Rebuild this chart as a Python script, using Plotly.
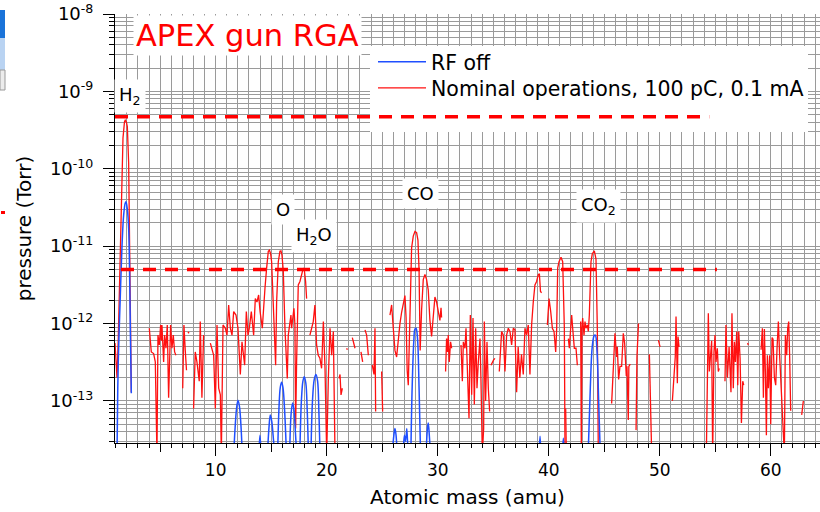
import plotly.graph_objects as go

# ---------------- data ----------------
red_mass = [
    0.93, 1.02, 1.11, 1.22, 1.32, 1.41, 1.50, 1.65, 1.78, 1.86, 1.96, 2.04, 2.16, 2.25, 2.31, 2.40, None,
    4.02, 4.12, 4.20, 4.41, 4.56, 4.71, 4.80, 4.92, 5.04, 5.10, 5.16, 5.31, 5.40, 5.52, 5.64, 5.76, 5.94, 6.06, 6.18, 6.30, 6.42, None,
    7.03, 7.14, 7.26, 7.37, None,
    7.50, 7.60, None,
    8.01, 8.16, 8.31, 8.52, 8.61, 8.76, 8.91, None,
    9.52, 9.67, 9.82, 9.97, 10.12, 10.27, 10.42, 10.51, 10.66, 10.87,
    11.02, 11.17, 11.32, 11.47, 11.62, 11.83, 12.01, 12.22, 12.37, 12.61,
    12.76, 12.91, 13.03, 13.21, 13.42, 13.57, 13.72, 13.87, 14.00, 14.20,
    14.29, 14.44, 14.59, 14.74, 14.84, 14.95, 15.04, 15.19, 15.34, 15.40,
    15.49, 15.64, 15.79, 15.88, 15.97, 16.09, 16.24, 16.45, 16.54, 16.69,
    16.78, 16.84, 16.99, 17.05, 17.14, 17.20, 17.29, 17.44, 17.59, 17.74,
    17.89, 17.98, 18.10, 18.19, None,
    18.49, 18.64, 18.79, 18.94, 19.09, 19.24, 19.39, 19.54, 19.70, 19.85, 20.00, 20.15, 20.30, 20.45, 20.60, 20.75, None,
    21.11, 21.20, 21.29, 21.41, None,
    21.80, 21.86, None,
    22.31, 22.45, 22.55, None,
    23.09, 23.24, None,
    23.45, 23.60, 23.75, None,
    24.11, 24.26, 24.35, 24.41, None,
    24.95, 25.04, None,
    25.70, 25.85, 26.00, 26.15, 26.30, 26.45, 26.60, 26.75, 26.90, 27.05,
    27.15, 27.25, 27.35, 27.50, 27.65, 27.80, 27.95, 28.10, 28.22, 28.32,
    28.42, 28.55, 28.70, 28.85, 29.00, 29.15, 29.30, 29.45, 29.60, 29.75,
    29.90, 30.05, 30.20, 30.30, 30.35, None,
    30.71, 30.80, 30.89, 30.95, 31.04, 31.16, 31.26, None,
    32.10, 32.22, 32.31, 32.46, 32.55, 32.67, 32.82, 32.94, 33.06, 33.18,
    33.30, 33.42, 33.54, 33.66, 33.81, 33.90, 34.02, 34.14, 34.20, 34.32,
    34.44, 34.56, 34.68, None,
    34.80, 34.92, 35.04, 35.16, None,
    35.55, 35.67, 35.76, 35.91, 36.06, 36.21, 36.36, 36.51, 36.66, 36.81,
    36.96, 37.11, 37.25, 37.40, 37.55, 37.71, 37.86, 38.01, 38.16, 38.31,
    38.46, 38.61, 38.76, 38.91, 39.06, 39.16, 39.26, 39.36, None,
    39.88, 40.03, 40.18, 40.33, 40.48, 40.63, 40.72, 40.81, 40.93, 41.11, 41.26, 41.41, 41.47, None,
    41.53, 41.59, None,
    41.77, 41.86, 41.98, 42.07, 42.16, 42.31, 42.46, 42.58, None,
    42.88, 42.94, 43.00, 43.06, 43.18, 43.27, 43.36, 43.48, 43.57, 43.66, 43.81, 43.93, 44.11, 44.26, 44.38, 44.47, None,
    45.67, 45.82, 45.97, 46.12, 46.18, 46.30, 46.42, 46.57, 46.72, 46.84, 46.99, 47.05, 47.17, 47.22, 47.35, None,
    47.87, 47.95, 48.09, None,
    49.07, 49.28, None,
    49.88, 50.03, None,
    51.14, 51.29, 51.40, 51.47, 51.53, 51.59, 51.65, 51.74, None,
    54.20, 54.38, 54.47, 54.59, 54.68, 54.77, 54.89, 54.98, 55.07, 55.19, 55.28, 55.37, None,
    55.88, 55.97, 56.10, 56.25, 56.42, 56.51, 56.63, 56.73, 56.82, 56.94, 57.03, 57.12, 57.24, 57.36, 57.48, 57.57, None,
    57.92, 57.98, None,
    59.13, 59.25, 59.34, 59.43, 59.52, 59.61, 59.70, 59.79, 59.91, 60.00,
    60.12, 60.21, 60.33, 60.45, 60.57, 60.69, 60.80, 60.93, 61.05, 61.23,
    61.32, 61.44, 61.53, 61.62, 61.71, 61.80, None,
    62.79, 62.94,
]
red_pressure = [
    5.6e-13, 3.5e-13, 2.0e-13, 6.0e-13, 2.3e-12, 1.2e-11, 4.6e-11, 2.5e-10, 4.0e-10, 4.3e-10, 4.0e-10, 3.5e-10, 1.2e-10, 1.0e-11, 8.8e-13, 1.3e-13, None,
    8.7e-13, 5.5e-13, 4.3e-13, 4.1e-13, 3.2e-13, 2.0e-14, 7.1e-13, 5.3e-13, 9.6e-13, 6.0e-13, 9.6e-13, 3.2e-13, 7.1e-13, 4.8e-13, 9.6e-13, 1.1e-13, 9.6e-13, 4.8e-13, 7.1e-13, 4.3e-13, 3.9e-13, None,
    1.46e-13, 9.6e-13, 4.5e-13, 2.5e-13, None,
    7.8e-13, 7.5e-13, None,
    8.0e-14, 4.3e-13, 3.2e-13, 1.8e-13, 1.06e-12, 1.1e-13, 7.1e-13, None,
    5.6e-13, 4.8e-13, 3.9e-13, 8.0e-14, 9.6e-13, 1.46e-13, 1.2e-13, 2.0e-14, 9.6e-13, 8.7e-13,
    7.1e-13, 1.74e-12, 8.7e-13, 7.1e-13, 1.43e-12, 1.29e-12, 8.7e-13, 2.2e-13, 5.8e-13, 2.9e-13,
    1.43e-12, 7.1e-13, 8.7e-13, 1.43e-12, 7.1e-13, 2.1e-12, 1.9e-12, 2.34e-12, 1.43e-12, 8.7e-13,
    1.58e-12, 2.86e-12, 5.2e-12, 8.6e-12, 8.9e-12, 8.0e-12, 6.3e-12, 1.9e-12, 3.9e-13, 2.9e-13,
    1.9e-12, 6.3e-12, 8.6e-12, 8.7e-12, 7.7e-12, 4.8e-12, 8.7e-13, 1.96e-13, 7.1e-13, 1.06e-12,
    1.29e-12, 8.7e-13, 1.43e-12, 1.58e-12, 9.6e-13, 4.4e-14, 3.2e-13, 3.15e-12, 3.5e-12, 4.3e-12,
    5.2e-12, 5.0e-12, 3.5e-12, 2.1e-12, None,
    7.1e-13, 8.7e-13, 1.06e-12, 1.74e-12, 5.3e-13, 3.9e-13, 3.56e-13, 2.64e-13, 1.06e-12, 2.64e-13, 2.0e-14, 1.96e-13, 8.7e-13, 3.9e-13, 7.9e-13, 2.0e-14, None,
    1.96e-13, 2.2e-13, 1.2e-13, 1.46e-13, None,
    4.8e-13, 4.6e-13, None,
    6.6e-13, 5.5e-13, 4.8e-13, None,
    4.3e-13, 3.2e-13, None,
    8.3e-13, 7.1e-13, 3.9e-13, None,
    2.9e-13, 2.2e-13, 8.7e-13, 7.3e-14, None,
    2.4e-13, 7.3e-14, None,
    1.29e-12, 1.74e-12, 8.7e-13, 4.5e-13, 3.7e-13, 7.0e-13, 1.0e-12, 1.4e-12, 1.8e-12, 2.3e-12,
    1.2e-12, 2.5e-13, 1.6e-13, 2.0e-12, 9.5e-12, 1.35e-11, 1.55e-11, 1.5e-11, 1.2e-11, 5.0e-12,
    4.5e-13, 1.5e-12, 3.7e-12, 4.3e-12, 3.7e-12, 2.7e-12, 1.1e-12, 6.8e-13, 1.37e-12, 2.2e-12,
    1.9e-12, 1.37e-12, 1.1e-12, 1.6e-12, 1.2e-12, None,
    2.4e-13, 6.4e-13, 4.3e-13, 7.1e-13, 3.2e-13, 5.8e-13, 4.8e-13, None,
    5.3e-13, 1.8e-13, 5.8e-13, 4.8e-13, 8.7e-13, 2.64e-13, 6.0e-14, 1.29e-12, 1.2e-13, 1.18e-12,
    9.0e-14, 8.7e-13, 1.46e-13, 3.2e-13, 6.4e-13, 1.8e-13, 2.0e-14, 4.4e-14, 1.06e-12, 1.0e-13,
    5.8e-13, 1.46e-13, 7.3e-14, None,
    2.9e-13, 3.2e-13, 3.4e-13, 3.56e-13, None,
    2.4e-13, 4.8e-13, 7.9e-13, 7.1e-13, 2.4e-13, 7.1e-13, 8.7e-13, 7.9e-13, 5.3e-13, 8.7e-13,
    8.3e-13, 1.3e-13, 5.0e-13, 2.0e-13, 4.0e-13, 2.2e-13, 8.7e-13, 7.1e-13, 9.6e-13, 2.2e-13,
    9.6e-13, 1.9e-12, 3.15e-12, 3.5e-12, 4.3e-12, 4.4e-12, 2.6e-12, 2.5e-12, None,
    9.6e-13, 2.1e-12, 1.43e-12, 8.7e-13, 7.9e-13, 4.3e-13, 8.7e-13, 5.2e-12, 6.3e-12, 7.2e-12, 6.3e-12, 8.7e-13, 2.0e-14, None,
    8.0e-14, 2.0e-14, None,
    6.4e-13, 4.8e-13, 8.7e-13, 1.29e-12, 8.7e-13, 4.8e-13, 4.8e-13, 2.9e-13, None,
    1.06e-12, 2.0e-14, 8.7e-13, 1.18e-12, 7.1e-13, 1.06e-12, 8.7e-13, 9.6e-13, 7.9e-13, 1.29e-12, 6.3e-12, 8.0e-12, 8.7e-12, 6.8e-12, 8.7e-13, 2.0e-14, None,
    9.3e-14, 3.1e-13, 7.5e-13, 3.7e-13, 5.0e-13, 1.9e-13, 2.8e-13, 2.8e-13, 7.5e-13, 5.6e-13, 2.1e-13, 2.8e-13, 5.7e-14, 2.8e-13, 3.0e-13, None,
    4.2e-14, 3.7e-13, 1.0e-12, None,
    4.0e-13, 2.0e-14, None,
    6.1e-13, 5.0e-13, None,
    1.0e-13, 1.9e-13, 3.7e-13, 1.23e-12, 3.7e-13, 1.7e-13, 6.8e-13, 5.0e-13, None,
    2.0e-14, 1.36e-12, 2.4e-13, 4.8e-13, 6.0e-13, 2.0e-14, 4.3e-13, 7.1e-13, 3.2e-13, 4.8e-13, 2.4e-13, 2.64e-13, None,
    1.8e-13, 9.6e-13, 2.0e-13, 5.0e-13, 1.3e-13, 1.36e-12, 1.46e-13, 5.8e-13, 3.2e-13, 7.9e-13, 1.6e-13, 7.9e-13, 3.56e-13, 5.2e-14, 1.8e-13, 1.6e-13, None,
    5.6e-13, 5.3e-13, None,
    4.6e-13, 8.7e-13, 1.1e-13, 8.5e-13, 2.4e-13, 3.6e-14, 3.9e-13, 1.46e-13, 3.9e-13, 5.0e-14,
    6.6e-13, 6.3e-13, 2.0e-13, 1.6e-13, 4.8e-13, 1.06e-12, 4.0e-13, 1.3e-13, 7.0e-14, 2.0e-14,
    7.1e-13, 3.9e-13, 8.7e-13, 1.06e-12, 3.56e-13, 7.5e-14, None,
    6.6e-14, 1.0e-13,
]

blue_mass = [
    1.11, 1.18, 1.26, 1.41, 1.56, 1.71, 1.85, 1.92, 2.04, 2.16, 2.24, 2.31, 2.36, 2.40, None,
    11.62, 11.75, 11.88, 12.01, 12.14, 12.27, 12.40, None,
    13.88, 13.99, 14.10, None,
    14.66, 14.80, 14.92, 15.05, 15.18, 15.32, None,
    15.58, 15.70, 15.82, 15.94, 16.06, 16.20, 16.38, None,
    16.66, 16.80, 16.93, 17.06, 17.18, 17.30, None,
    17.58, 17.72, 17.86, 17.98, 18.12, 18.24, 18.36, None,
    18.58, 18.72, 18.88, 19.03, 19.18, 19.30, 19.40, None,
    25.90, 26.05, 26.15, 26.25, 26.35, None,
    26.88, 27.00, 27.10, 27.22, 27.32, None,
    27.58, 27.70, 27.85, 27.95, 28.05, 28.18, 28.32, 28.46, None,
    28.95, 29.08, 29.15, 29.25, 29.35, None,
    39.12, 39.22, 39.30, None,
    41.22, 41.32, 41.40, None,
    43.55, 43.75, 43.92, 44.10, 44.20, 44.35, 44.50, 44.65,
]
blue_pressure = [
    2.0e-14, 1.5e-13, 5.0e-13, 2.34e-12, 1.0e-11, 2.53e-11, 3.6e-11, 3.76e-11, 3.0e-11, 1.7e-11, 5.0e-12, 8.7e-13, 3.0e-13, 1.26e-13, None,
    2.0e-14, 4.5e-14, 8.0e-14, 1.02e-13, 8.5e-14, 5.0e-14, 2.0e-14, None,
    2.0e-14, 3.6e-14, 2.0e-14, None,
    2.0e-14, 4.5e-14, 6.6e-14, 5.5e-14, 3.5e-14, 2.0e-14, None,
    2.0e-14, 8.0e-14, 1.5e-13, 1.75e-13, 1.5e-13, 8.0e-14, 2.0e-14, None,
    2.0e-14, 7.0e-14, 9.4e-14, 7.5e-14, 4.0e-14, 2.0e-14, None,
    2.0e-14, 1.0e-13, 1.8e-13, 2.06e-13, 1.7e-13, 8.0e-14, 2.0e-14, None,
    2.0e-14, 1.0e-13, 1.9e-13, 2.2e-13, 1.8e-13, 7.0e-14, 2.0e-14, None,
    2.0e-14, 3.6e-14, 4.4e-14, 3.6e-14, 2.0e-14, None,
    2.0e-14, 3.6e-14, 3.0e-14, 4.4e-14, 2.0e-14, None,
    2.0e-14, 1.5e-13, 6.0e-13, 8.5e-13, 8.7e-13, 6.5e-13, 1.5e-13, 2.0e-14, None,
    2.0e-14, 4.5e-14, 5.2e-14, 3.5e-14, 2.0e-14, None,
    2.0e-14, 3.5e-14, 2.0e-14, None,
    2.0e-14, 3.3e-14, 2.0e-14, None,
    2.0e-14, 1.5e-13, 5.0e-13, 7.0e-13, 7.1e-13, 4.5e-13, 1.0e-13, 2.0e-14,
]

limit_high_mass = [0.93, 54.46]
limit_high_pressure = [4.7e-10, 4.7e-10]
limit_low_mass = [1.47, 55.15]
limit_low_pressure = [5.0e-12, 5.0e-12]

x_major_ticks = [10, 20, 30, 40, 50, 60]
x_mid_ticks = [5, 15, 25, 35, 45, 55]
y_decades = [-13, -12, -11, -10, -9, -8]

peak_labels = ["H<sub>2</sub>", "O", "H<sub>2</sub>O", "CO", "CO<sub>2</sub>"]
peak_label_px = [(130, 96), (283, 209), (314, 236), (420, 193), (598, 206)]

# ---------------- layout geometry (pixels) ----------------
FW, FH = 820, 512
ML, MR, MT, MB = 115, 0, 14, 69
PW, PH = FW - ML - MR, FH - MT - MB
X_RANGE = [0.93, 64.44]
Y_RANGE = [-13.543, -8.0]


def px(x):
    return (x - ML) / PW


def py(y):
    return (FH - MB - y) / PH


def px_to_mass(x):
    return X_RANGE[0] + px(x) * (X_RANGE[1] - X_RANGE[0])


def py_to_pressure(y):
    return 10.0 ** (Y_RANGE[0] + py(y) * (Y_RANGE[1] - Y_RANGE[0]))


FONT = "DejaVu Sans"
GRID = "#9a9a9a"

fig = go.Figure()
# white panel behind the legend: over the grid, under the data lines
lx0, lx1 = px_to_mass(370), px_to_mass(808)
ly0, ly1 = py_to_pressure(132), py_to_pressure(46)
fig.add_trace(go.Scatter(
    x=[lx0, lx1, lx1, lx0, lx0], y=[ly0, ly0, ly1, ly1, ly0], mode="lines",
    fill="toself", fillcolor="white", line=dict(width=0, color="white"),
    showlegend=False, hoverinfo="skip"))
fig.add_trace(go.Scatter(
    x=red_mass, y=red_pressure, mode="lines",
    name="Nominal operations, 100 pC, 0.1 mA", legend="legend2",
    line=dict(color="#ff1010", width=1.3), connectgaps=False,
    hoverinfo="skip"))
fig.add_trace(go.Scatter(
    x=blue_mass, y=blue_pressure, mode="lines", name="RF off", legend="legend",
    line=dict(color="#1f4fff", width=1.5, shape="spline"), connectgaps=False,
    hoverinfo="skip"))
fig.add_trace(go.Scatter(
    x=limit_high_mass, y=limit_high_pressure, mode="lines", showlegend=False,
    line=dict(color="#ff0000", width=3.3, dash="13px,9px"), hoverinfo="skip"))
fig.add_trace(go.Scatter(
    x=limit_low_mass, y=limit_low_pressure, mode="lines", showlegend=False,
    line=dict(color="#ff0000", width=3.3, dash="13px,9px"), hoverinfo="skip"))
# helper trace so the secondary (mid-tick) axis is drawn
fig.add_trace(go.Scatter(x=[None], y=[None], xaxis="x2", showlegend=False,
                         hoverinfo="skip"))

y_minor = [m * 10.0 ** e for e in range(-14, -8) for m in range(2, 10)]

legend_common = dict(xanchor="left", yanchor="top", bgcolor="rgba(0,0,0,0)",
                     font=dict(size=20.5, family=FONT), itemwidth=48)

fig.update_layout(
    width=FW, height=FH,
    margin=dict(l=ML, r=MR, t=MT, b=MB, pad=0),
    paper_bgcolor="white", plot_bgcolor="white",
    font=dict(family=FONT, color="black", size=17),
    showlegend=True,
    legend=dict(x=px(373), y=py(42), **legend_common),
    legend2=dict(x=px(373), y=py(68), **legend_common),
    xaxis=dict(
        range=X_RANGE, showline=True, linecolor="black", linewidth=1,
        mirror=False, zeroline=False,
        tickmode="array", tickvals=x_major_ticks,
        ticktext=[str(v) for v in x_major_ticks],
        ticks="outside", ticklen=12, tickcolor="black", tickwidth=1,
        tickfont=dict(size=17, family=FONT),
        showgrid=True, gridcolor=GRID, gridwidth=1,
        minor=dict(dtick=1, tick0=0, ticks="outside", ticklen=4,
                   tickcolor="black", showgrid=True, gridcolor=GRID, gridwidth=1),
        title=dict(text="Atomic mass (amu)", font=dict(size=20, family=FONT),
                   standoff=10),
    ),
    xaxis2=dict(
        overlaying="x", anchor="y", side="bottom", range=X_RANGE,
        tickmode="array", tickvals=x_mid_ticks, showticklabels=False,
        ticks="outside", ticklen=8, tickcolor="black", showgrid=False,
        showline=False, zeroline=False,
    ),
    yaxis=dict(
        type="log", range=Y_RANGE, showline=True, linecolor="black",
        linewidth=1, zeroline=False,
        tickmode="array", tickvals=[10.0 ** e for e in y_decades],
        ticktext=["10<sup>%d</sup>" % e for e in y_decades],
        ticks="outside", ticklen=11, tickcolor="black",
        ticklabelstandoff=6,
        tickfont=dict(size=18, family=FONT),
        showgrid=True, gridcolor=GRID, gridwidth=1,
        minor=dict(tickmode="array", tickvals=y_minor, ticks="outside",
                   ticklen=5, tickcolor="black", showgrid=True,
                   gridcolor=GRID, gridwidth=1),
        title=dict(text="pressure (Torr)", font=dict(size=20, family=FONT),
                   standoff=12),
    ),
)

shapes = [
    # screenshot remnants at the far left edge
    dict(type="rect", xref="paper", yref="paper", x0=px(0), x1=px(5),
         y0=py(38), y1=py(10), fillcolor="#1a73d9", line=dict(width=0)),
    dict(type="rect", xref="paper", yref="paper", x0=px(0), x1=px(5),
         y0=py(70), y1=py(38), fillcolor="#b9d3f2", line=dict(width=0)),
    dict(type="rect", xref="paper", yref="paper", x0=px(0), x1=px(5),
         y0=py(90), y1=py(70), fillcolor="#ececec",
         line=dict(width=1, color="#9a9a9a")),
    dict(type="rect", xref="paper", yref="paper", x0=px(1), x1=px(5),
         y0=py(214), y1=py(211), fillcolor="#ff0000", line=dict(width=0)),
]
fig.update_layout(shapes=shapes)

annotations = [
    dict(text="APEX gun RGA", xref="paper", yref="paper", x=px(133), y=py(35),
         xanchor="left", yanchor="middle", showarrow=False,
         font=dict(size=30.5, color="#ff0000", family=FONT),
         bgcolor="white", borderpad=2),
]
for label, (lx, ly) in zip(peak_labels, peak_label_px):
    annotations.append(dict(text=label, xref="paper", yref="paper",
                            x=px(lx), y=py(ly), xanchor="center",
                            yanchor="middle", showarrow=False,
                            font=dict(size=18, color="black", family=FONT),
                            bgcolor="white", borderpad=4))
fig.update_layout(annotations=annotations)

fig.write_html("out.html")
